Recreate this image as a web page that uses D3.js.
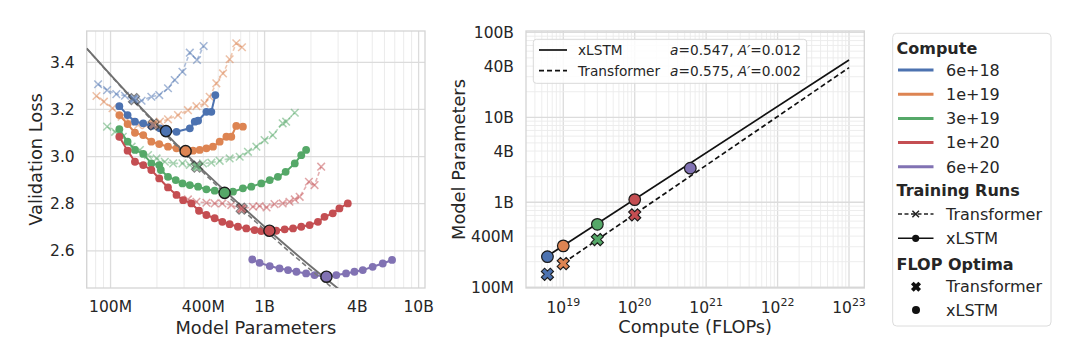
<!DOCTYPE html>
<html>
<head>
<meta charset="utf-8">
<script src="https://cdn.jsdelivr.net/npm/d3@7"></script>
<style>
  body { margin: 0; background: #fff; }
  svg { font-family: "DejaVu Sans", sans-serif; }
</style>
</head>
<body>
<div class="chart"></div>
<script>
// compute budgets and colours (seaborn "deep")
var computeLabels = ["6e+18", "1e+19", "3e+19", "1e+20", "6e+20"];
var computeBudgets = [6e18, 1e19, 3e19, 1e20, 6e20];
var palette = ["#4C72B0", "#DD8452", "#55A868", "#C44E52", "#8172B3"];

// isoFLOP training runs, [model parameters, validation loss]
var xlstm6e18 = [[1.14e8,3.214],[1.29e8,3.176],[1.44e8,3.148],[1.63e8,3.141],[1.84e8,3.130],[2.09e8,3.120],[2.28e8,3.108],[2.68e8,3.105],[3.27e8,3.120],[3.52e8,3.148],[3.70e8,3.152],[4.19e8,3.190],[4.51e8,3.190],[4.79e8,3.261]];
var xlstm1e19 = [[1.14e8,3.176],[1.29e8,3.138],[1.44e8,3.101],[1.63e8,3.091],[1.84e8,3.063],[2.07e8,3.053],[2.36e8,3.042],[2.68e8,3.035],[3.06e8,3.023],[3.43e8,3.025],[3.79e8,3.028],[4.19e8,3.035],[4.62e8,3.042],[5.11e8,3.063],[5.65e8,3.084],[6.08e8,3.084],[6.55e8,3.130],[7.23e8,3.127]];
var xlstm3e19 = [[1.14e8,3.116],[1.29e8,3.063],[1.44e8,3.028],[1.63e8,3.011],[1.84e8,2.971],[2.07e8,2.964],[2.12e8,2.943],[2.36e8,2.914],[2.65e8,2.900],[2.93e8,2.886],[3.27e8,2.879],[3.70e8,2.872],[4.19e8,2.861],[4.74e8,2.855],[5.45e8,2.846],[6.23e8,2.851],[7.23e8,2.865],[8.2e8,2.872],[9.52e8,2.886],[1.08e9,2.900],[1.22e9,2.914],[1.37e9,2.935],[1.57e9,2.971],[1.73e9,3.006],[1.86e9,3.028]];
var xlstm1e20 = [[1.14e8,3.084],[1.29e8,3.025],[1.44e8,2.978],[1.63e8,2.964],[1.84e8,2.943],[2.07e8,2.907],[2.36e8,2.869],[2.68e8,2.837],[2.96e8,2.815],[3.35e8,2.801],[3.75e8,2.770],[4.19e8,2.752],[4.74e8,2.738],[5.32e8,2.723],[5.93e8,2.713],[6.71e8,2.702],[7.61e8,2.695],[8.61e8,2.688],[9.52e8,2.684],[1.07e9,2.685],[1.19e9,2.685],[1.35e9,2.691],[1.53e9,2.695],[1.73e9,2.702],[1.96e9,2.709],[2.22e9,2.723],[2.45e9,2.744],[2.77e9,2.759],[3.06e9,2.780],[3.47e9,2.801]];
var xlstm6e20 = [[8.32e8,2.563],[9.28e8,2.549],[1.08e9,2.535],[1.25e9,2.525],[1.42e9,2.518],[1.61e9,2.511],[1.86e9,2.504],[2.11e9,2.497],[2.49e9,2.490],[2.92e9,2.497],[3.38e9,2.504],[3.83e9,2.511],[4.34e9,2.518],[5.03e9,2.532],[5.85e9,2.546],[6.72e9,2.561]];

var transformer6e18 = [[8.3e7,3.307],[9.5e7,3.282],[1.09e8,3.265],[1.24e8,3.258],[1.40e8,3.244],[1.59e8,3.237],[1.84e8,3.254],[2.07e8,3.261],[2.36e8,3.290],[2.61e8,3.325],[2.93e8,3.360],[3.27e8,3.441],[3.64e8,3.410],[4.02e8,3.469]];
var transformer1e19 = [[8.1e7,3.257],[9.05e7,3.233],[1.03e8,3.205],[1.18e8,3.169],[1.33e8,3.148],[1.51e8,3.134],[1.70e8,3.133],[1.89e8,3.136],[2.09e8,3.148],[2.36e8,3.158],[2.74e8,3.176],[3.18e8,3.197],[3.61e8,3.214],[4.08e8,3.226],[4.40e8,3.254],[4.86e8,3.311],[5.37e8,3.353],[5.93e8,3.413],[6.55e8,3.481],[7.13e8,3.464]];
var transformer3e19 = [[9.5e7,3.127],[1.07e8,3.105],[1.20e8,3.084],[1.37e8,3.042],[1.55e8,3.028],[1.75e8,3.006],[1.99e8,2.992],[2.25e8,2.978],[2.55e8,2.971],[2.93e8,2.971],[3.27e8,2.964],[3.61e8,2.957],[3.98e8,2.971],[4.51e8,2.974],[5.11e8,2.982],[5.93e8,2.992],[6.89e8,2.999],[7.8e8,3.020],[8.84e8,3.042],[1.0e9,3.070],[1.13e9,3.091],[1.31e9,3.141],[1.38e9,3.148],[1.57e9,3.186]];
var transformer1e20 = [[3.18e8,2.818],[3.61e8,2.808],[4.19e8,2.804],[4.74e8,2.801],[5.32e8,2.801],[6.08e8,2.794],[7.07e8,2.778],[8.4e8,2.787],[9.28e8,2.790],[1.03e9,2.784],[1.16e9,2.798],[1.31e9,2.801],[1.45e9,2.808],[1.57e9,2.818],[1.69e9,2.829],[1.94e9,2.893],[2.11e9,2.879],[2.33e9,2.957]];

var xlstmRuns = [xlstm6e18, xlstm1e19, xlstm3e19, xlstm1e20, xlstm6e20];
var transformerRuns = [transformer6e18, transformer1e19, transformer3e19, transformer1e20];

// FLOP optima
var xlstmOptimaParams = [2.29e8, 3.07e8, 5.5e8, 1.075e9, 2.52e9];
var xlstmOptimaLoss = [3.108, 3.023, 2.846, 2.685, 2.490];
var transformerOptimaParams = [1.42e8, 1.9e8, 3.64e8, 7.1e8];
var transformerOptimaLoss = [3.244, 3.136, 2.957, 2.779];

// loss-vs-params fits (left)
var lossFitXlstm = [[7e7,3.459],[1.4e8,3.243],[2e8,3.137],[3e8,3.019],[5e8,2.881],[1e9,2.702],[2e9,2.533],[3.2e9,2.425]];
var lossFitTransformer = [[7e7,3.459],[2e8,3.131],[3e8,3.013],[5e8,2.871],[1e9,2.689],[2e9,2.518],[3.2e9,2.408]];

// params-vs-compute fits (right)
var paramFitXlstm = [[6e18, 2.33e8], [1e23, 4.72e10]];
var paramFitTransformer = [[1e19, 1.93e8], [1e23, 3.84e10]];

var leftXTicks = [1e8, 4e8, 1e9, 4e9, 1e10];
var leftXTickLabels = ["100M", "400M", "1B", "4B", "10B"];
var leftYTicks = [2.6, 2.8, 3.0, 3.2, 3.4];
var rightYTicks = [1e8, 4e8, 1e9, 4e9, 1e10, 4e10, 1e11];
var rightYTickLabels = ["100M", "400M", "1B", "4B", "10B", "40B", "100B"];
var rightXTicks = [1e19, 1e20, 1e21, 1e22, 1e23];

var textColor = "#262626";

var svg = d3.select(".chart").append("svg")
    .attr("width", 1080)
    .attr("height", 362);

var left = {x0: 86.7, x1: 425, y0: 31, y1: 288};
var right = {x0: 526, x1: 864.3, y0: 31, y1: 288};

var xL = d3.scaleLog().domain([7e7, 1.1e10]).range([left.x0, left.x1]);
var yL = d3.scaleLinear().domain([2.442, 3.533]).range([left.y1, left.y0]);
var xR = d3.scaleLog().domain([3.006e18, 1.637e23]).range([right.x0, right.x1]);
var yR = d3.scaleLog().domain([9.8e7, 1.036e11]).range([right.y1, right.y0]);

function minorValues(domain, k0, k1) {
  var vals = [];
  for (var k = k0; k <= k1; k++) {
    for (var m = 1; m <= 9; m++) {
      var v = m * Math.pow(10, k);
      if (v >= domain[0] && v <= domain[1]) vals.push({v: v, major: m === 1});
    }
  }
  return vals;
}

// X marker shape (matplotlib "X")
function xPath(h, w) {
  var pts = [[-w,-h],[w,-h],[w,-w],[h,-w],[h,w],[w,w],[w,h],[-w,h],[-w,w],[-h,w],[-h,-w],[-w,-w]];
  var c = Math.SQRT1_2;
  return "M" + pts.map(p => [(p[0] - p[1]) * c, (p[0] + p[1]) * c].join(",")).join("L") + "Z";
}

function thinX(g, cx, cy, s, color, opacity) {
  g.append("path")
    .attr("d", `M${cx - s},${cy - s}L${cx + s},${cy + s}M${cx - s},${cy + s}L${cx + s},${cy - s}`)
    .attr("stroke", color)
    .attr("stroke-width", 1.5)
    .attr("opacity", opacity);
}

function frame(g, box) {
  g.append("rect")
    .attr("x", box.x0).attr("y", box.y0)
    .attr("width", box.x1 - box.x0).attr("height", box.y1 - box.y0)
    .attr("fill", "none")
    .attr("stroke", "#d4d4d4")
    .attr("stroke-width", 1.3);
}

var defs = svg.append("defs");
defs.append("clipPath").attr("id", "clipL").append("rect")
  .attr("x", left.x0).attr("y", left.y0).attr("width", left.x1 - left.x0).attr("height", left.y1 - left.y0);
defs.append("clipPath").attr("id", "clipR").append("rect")
  .attr("x", right.x0).attr("y", right.y0).attr("width", right.x1 - right.x0).attr("height", right.y1 - right.y0);

/**
 * Left panel: validation loss vs model parameters
 */
var gL = svg.append("g");

gL.selectAll(".vgrid")
  .data(minorValues(xL.domain(), 7, 10))
  .enter().append("line")
  .attr("x1", d => xL(d.v)).attr("x2", d => xL(d.v))
  .attr("y1", left.y0).attr("y2", left.y1)
  .attr("stroke", d => d.major ? "#dcdcdc" : "#e9e9e9")
  .attr("stroke-width", d => d.major ? 1.3 : 0.9);

gL.selectAll(".hgrid")
  .data(leftYTicks)
  .enter().append("line")
  .attr("x1", left.x0).attr("x2", left.x1)
  .attr("y1", d => yL(d)).attr("y2", d => yL(d))
  .attr("stroke", "#dcdcdc")
  .attr("stroke-width", 1.3);

frame(gL, left);

var plotL = gL.append("g").attr("clip-path", "url(#clipL)");
var lineL = d3.line().x(d => xL(d[0])).y(d => yL(d[1]));

transformerRuns.forEach((run, i) => {
  plotL.append("path")
    .attr("d", lineL(run))
    .attr("fill", "none")
    .attr("stroke", palette[i])
    .attr("stroke-width", 1.6)
    .attr("stroke-dasharray", "4,2.5")
    .attr("opacity", 0.45);
  run.forEach(d => thinX(plotL, xL(d[0]), yL(d[1]), 3.8, palette[i], 0.5));
});

xlstmRuns.forEach((run, i) => {
  plotL.append("path")
    .attr("d", lineL(run))
    .attr("fill", "none")
    .attr("stroke", palette[i])
    .attr("stroke-width", 2);
  plotL.selectAll(null)
    .data(run)
    .enter().append("circle")
    .attr("cx", d => xL(d[0]))
    .attr("cy", d => yL(d[1]))
    .attr("r", 3.9)
    .attr("fill", palette[i]);
});

var curveL = d3.line().x(d => xL(d[0])).y(d => yL(d[1])).curve(d3.curveMonotoneX);
plotL.append("path")
  .attr("d", curveL(lossFitTransformer))
  .attr("fill", "none")
  .attr("stroke", "#7a7a7a")
  .attr("stroke-width", 1.6)
  .attr("stroke-dasharray", "5,3");
plotL.append("path")
  .attr("d", curveL(lossFitXlstm))
  .attr("fill", "none")
  .attr("stroke", "#707070")
  .attr("stroke-width", 1.9);

transformerOptimaParams.forEach((n, i) => {
  plotL.append("path")
    .attr("d", xPath(5.8, 2.1))
    .attr("transform", `translate(${xL(n)},${yL(transformerOptimaLoss[i])})`)
    .attr("fill", palette[i])
    .attr("stroke", "#222")
    .attr("stroke-width", 1.1)
    .attr("opacity", 0.55);
});

plotL.selectAll(".opt")
  .data(xlstmOptimaParams)
  .enter().append("circle")
  .attr("cx", d => xL(d))
  .attr("cy", (d, i) => yL(xlstmOptimaLoss[i]))
  .attr("r", 5.6)
  .attr("fill", (d, i) => palette[i])
  .attr("stroke", "#1a1a1a")
  .attr("stroke-width", 1.4);

gL.selectAll(".xtick")
  .data(leftXTicks)
  .enter().append("text")
  .attr("x", d => xL(d))
  .attr("y", 312)
  .attr("text-anchor", "middle")
  .attr("font-size", 15.5)
  .attr("fill", textColor)
  .text((d, i) => leftXTickLabels[i]);

gL.selectAll(".ytick")
  .data(leftYTicks)
  .enter().append("text")
  .attr("x", left.x0 - 12)
  .attr("y", d => yL(d))
  .attr("dy", "0.36em")
  .attr("text-anchor", "end")
  .attr("font-size", 15.5)
  .attr("fill", textColor)
  .text(d => d.toFixed(1));

gL.append("text")
  .attr("x", (left.x0 + left.x1) / 2)
  .attr("y", 334)
  .attr("text-anchor", "middle")
  .attr("font-size", 17.8)
  .attr("fill", textColor)
  .text("Model Parameters");

gL.append("text")
  .attr("transform", `translate(42,${(left.y0 + left.y1) / 2}) rotate(-90)`)
  .attr("text-anchor", "middle")
  .attr("font-size", 17.8)
  .attr("fill", textColor)
  .text("Validation Loss");

/**
 * Right panel: optimal model parameters vs compute
 */
var gR = svg.append("g");

gR.selectAll(".vgrid")
  .data(minorValues(xR.domain(), 18, 23))
  .enter().append("line")
  .attr("x1", d => xR(d.v)).attr("x2", d => xR(d.v))
  .attr("y1", right.y0).attr("y2", right.y1)
  .attr("stroke", d => d.major ? "#dcdcdc" : "#ebebeb")
  .attr("stroke-width", d => d.major ? 1.3 : 0.9);

gR.selectAll(".hgrid")
  .data(minorValues(yR.domain(), 7, 11))
  .enter().append("line")
  .attr("x1", right.x0).attr("x2", right.x1)
  .attr("y1", d => yR(d.v)).attr("y2", d => yR(d.v))
  .attr("stroke", d => d.major ? "#dcdcdc" : "#ebebeb")
  .attr("stroke-width", d => d.major ? 1.3 : 0.9);

frame(gR, right);

var plotR = gR.append("g").attr("clip-path", "url(#clipR)");
var lineR = d3.line().x(d => xR(d[0])).y(d => yR(d[1]));

plotR.append("path")
  .attr("d", lineR(paramFitXlstm))
  .attr("fill", "none")
  .attr("stroke", "#111")
  .attr("stroke-width", 1.7);
plotR.append("path")
  .attr("d", lineR(paramFitTransformer))
  .attr("fill", "none")
  .attr("stroke", "#111")
  .attr("stroke-width", 1.7)
  .attr("stroke-dasharray", "5,3");

transformerOptimaParams.forEach((n, i) => {
  plotR.append("path")
    .attr("d", xPath(6.3, 2.3))
    .attr("transform", `translate(${xR(computeBudgets[i])},${yR(n)})`)
    .attr("fill", palette[i])
    .attr("stroke", "#1a1a1a")
    .attr("stroke-width", 1.1);
});

plotR.selectAll(".opt")
  .data(xlstmOptimaParams)
  .enter().append("circle")
  .attr("cx", (d, i) => xR(computeBudgets[i]))
  .attr("cy", d => yR(d))
  .attr("r", 5.8)
  .attr("fill", (d, i) => palette[i])
  .attr("stroke", "#1a1a1a")
  .attr("stroke-width", 1.2);

var xtR = gR.selectAll(".xtick")
  .data(rightXTicks)
  .enter().append("text")
  .attr("x", d => xR(d))
  .attr("y", 313)
  .attr("text-anchor", "middle")
  .attr("font-size", 15.5)
  .attr("fill", textColor);
xtR.append("tspan").text("10");
xtR.append("tspan")
  .attr("dy", -7.5)
  .attr("font-size", 11)
  .text(d => Math.round(Math.log10(d)));

gR.selectAll(".ytick")
  .data(rightYTicks)
  .enter().append("text")
  .attr("x", right.x0 - 12)
  .attr("y", d => yR(d))
  .attr("dy", "0.36em")
  .attr("text-anchor", "end")
  .attr("font-size", 15.5)
  .attr("fill", textColor)
  .text((d, i) => rightYTickLabels[i]);

gR.append("text")
  .attr("x", (right.x0 + right.x1) / 2)
  .attr("y", 333)
  .attr("text-anchor", "middle")
  .attr("font-size", 17.8)
  .attr("fill", textColor)
  .text("Compute (FLOPs)");

gR.append("text")
  .attr("transform", `translate(465,${(right.y0 + right.y1) / 2}) rotate(-90)`)
  .attr("text-anchor", "middle")
  .attr("font-size", 17.8)
  .attr("fill", textColor)
  .text("Model Parameters");

// fit legend inside the right panel
var fitLegend = [
  {name: "xLSTM", a: "0.547", A: "0.012", dash: null},
  {name: "Transformer", a: "0.575", A: "0.002", dash: "5,3"}
];
var lg = gR.append("g");
lg.append("rect")
  .attr("x", 533.3).attr("y", 39.3)
  .attr("width", 273.4).attr("height", 44)
  .attr("rx", 3)
  .attr("fill", "#fff").attr("fill-opacity", 0.85)
  .attr("stroke", "#d9d9d9");
fitLegend.forEach((d, i) => {
  var cy = 50 + i * 20.7;
  lg.append("line")
    .attr("x1", 539).attr("x2", 567)
    .attr("y1", cy).attr("y2", cy)
    .attr("stroke", "#111").attr("stroke-width", 1.7)
    .attr("stroke-dasharray", d.dash);
  lg.append("text")
    .attr("x", 578).attr("y", cy).attr("dy", "0.36em")
    .attr("font-size", 13.7).attr("fill", textColor)
    .text(d.name);
  var t = lg.append("text")
    .attr("x", 801).attr("y", cy).attr("dy", "0.36em")
    .attr("text-anchor", "end")
    .attr("font-size", 13.7).attr("fill", textColor);
  t.append("tspan").attr("font-style", "italic").text("a");
  t.append("tspan").text("=" + d.a + ", ");
  t.append("tspan").attr("font-style", "italic").text("A\u2032");
  t.append("tspan").text("=" + d.A);
});

/**
 * Outer legend
 */
var leg = svg.append("g");
leg.append("rect")
  .attr("x", 892.7).attr("y", 33.3)
  .attr("width", 158.3).attr("height", 292.7)
  .attr("rx", 4)
  .attr("fill", "#fff")
  .attr("stroke", "#dcdcdc");

function legendTitle(label, cy) {
  leg.append("text")
    .attr("x", 896.5).attr("y", cy).attr("dy", "0.36em")
    .attr("font-size", 16).attr("font-weight", "bold")
    .attr("fill", textColor)
    .text(label);
}
function legendText(label, cy) {
  leg.append("text")
    .attr("x", 946).attr("y", cy).attr("dy", "0.36em")
    .attr("font-size", 16)
    .attr("fill", textColor)
    .text(label);
}

legendTitle("Compute", 48);
computeLabels.forEach((label, i) => {
  var cy = 70 + i * 24.2;
  leg.append("line")
    .attr("x1", 898).attr("x2", 933.5)
    .attr("y1", cy).attr("y2", cy)
    .attr("stroke", palette[i]).attr("stroke-width", 3);
  legendText(label, cy);
});

legendTitle("Training Runs", 190.7);
leg.append("line")
  .attr("x1", 898).attr("x2", 933.5).attr("y1", 214).attr("y2", 214)
  .attr("stroke", "#222").attr("stroke-width", 1.4).attr("stroke-dasharray", "4,2.5");
thinX(leg, 915.7, 214, 3.3, "#222", 1);
legendText("Transformer", 214);
leg.append("line")
  .attr("x1", 898).attr("x2", 933.5).attr("y1", 238.3).attr("y2", 238.3)
  .attr("stroke", "#111").attr("stroke-width", 1.6);
leg.append("circle").attr("cx", 915.7).attr("cy", 238.3).attr("r", 3.6).attr("fill", "#111");
legendText("xLSTM", 238.3);

legendTitle("FLOP Optima", 264);
leg.append("path")
  .attr("d", xPath(5.2, 1.9))
  .attr("transform", "translate(916,286.7)")
  .attr("fill", "#111");
legendText("Transformer", 286.7);
leg.append("circle").attr("cx", 916).attr("cy", 310).attr("r", 4).attr("fill", "#111");
legendText("xLSTM", 310);
</script>
</body>
</html>
